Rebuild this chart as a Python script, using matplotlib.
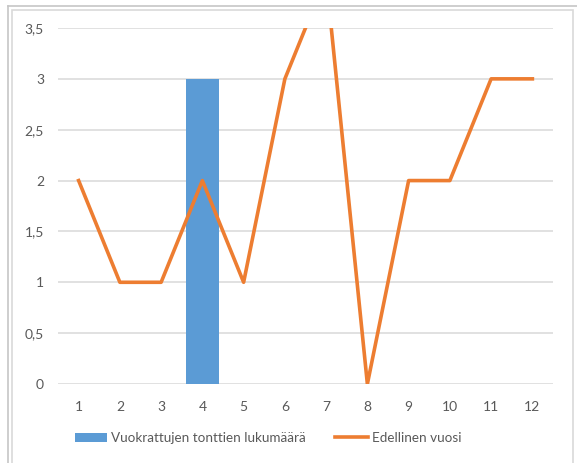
import numpy as np
import matplotlib
matplotlib.use("Agg")
import matplotlib.pyplot as plt
from matplotlib.lines import Line2D
from matplotlib.patches import Rectangle

# data
months = [1, 2, 3, 4, 5, 6, 7, 8, 9, 10, 11, 12]
rented_plots = [0, 0, 0, 3, 0, 0, 0, 0, 0, 0, 0, 0]
previous_year = [2, 1, 1, 2, 1, 3, 4, 0, 2, 2, 3, 3]
y_ticks = [0, 0.5, 1, 1.5, 2, 2.5, 3, 3.5]
y_tick_labels = ["0", "0,5", "1", "1,5", "2", "2,5", "3", "3,5"]

blue = "#5B9BD5"
orange = "#ED7D31"
text_col = "#595959"
grid_col = "#d9d9d9"

plt.rcParams['font.family'] = ['Lato', 'DejaVu Sans']

W, H = 577, 463
fig = plt.figure(figsize=(W / 100, H / 100), dpi=100)

# frame borders of the screenshot
def px(x, y):
    return x / W, 1 - y / H

fig.add_artist(Line2D([px(8, 0)[0], 1], [px(0, 6)[1]] * 2, color="#c6c6c6", lw=1.2))
fig.add_artist(Line2D([px(8, 0)[0]] * 2, [0, px(0, 6)[1]], color="#c6c6c6", lw=1.2))
x0, y0 = px(12, 10)
x1, _ = px(573, 0)
fig.add_artist(Rectangle((x0, -0.01), x1 - x0, y0 + 0.01, fill=False,
                         ec=grid_col, lw=1.2, transform=fig.transFigure))

ax = fig.add_axes([58 / W, 1 - 384 / H, (553 - 58) / W, (384 - 28) / H])
x = np.array(months)
bars = ax.bar(x, rented_plots, width=0.8, color=blue, zorder=2)
line, = ax.plot(x, previous_year, color=orange, lw=2.6, zorder=3)

ax.set_xlim(0.5, 12.5)
ax.set_ylim(0, 3.5)
ax.set_yticks(y_ticks)
ax.set_yticklabels(y_tick_labels)
ax.set_xticks(x)
ax.set_xticklabels([str(m) for m in months])
ax.tick_params(axis="both", length=0, colors=text_col, labelsize=10)
ax.tick_params(axis="y", pad=10)
ax.tick_params(axis="x", pad=12)
ax.yaxis.grid(True, color=grid_col, lw=1.1)
ax.set_axisbelow(True)
for s in ax.spines.values():
    s.set_visible(False)

fig.legend([bars, line], ["Vuokrattujen tonttien lukumäärä", "Edellinen vuosi"],
           loc="center", bbox_to_anchor=(268 / W, 1 - 438 / H), ncol=2, frameon=False,
           fontsize=9.7, handlelength=2.4, handletextpad=0.3, columnspacing=2.2,
           labelcolor=text_col)

fig.savefig("out.png", dpi=100)
